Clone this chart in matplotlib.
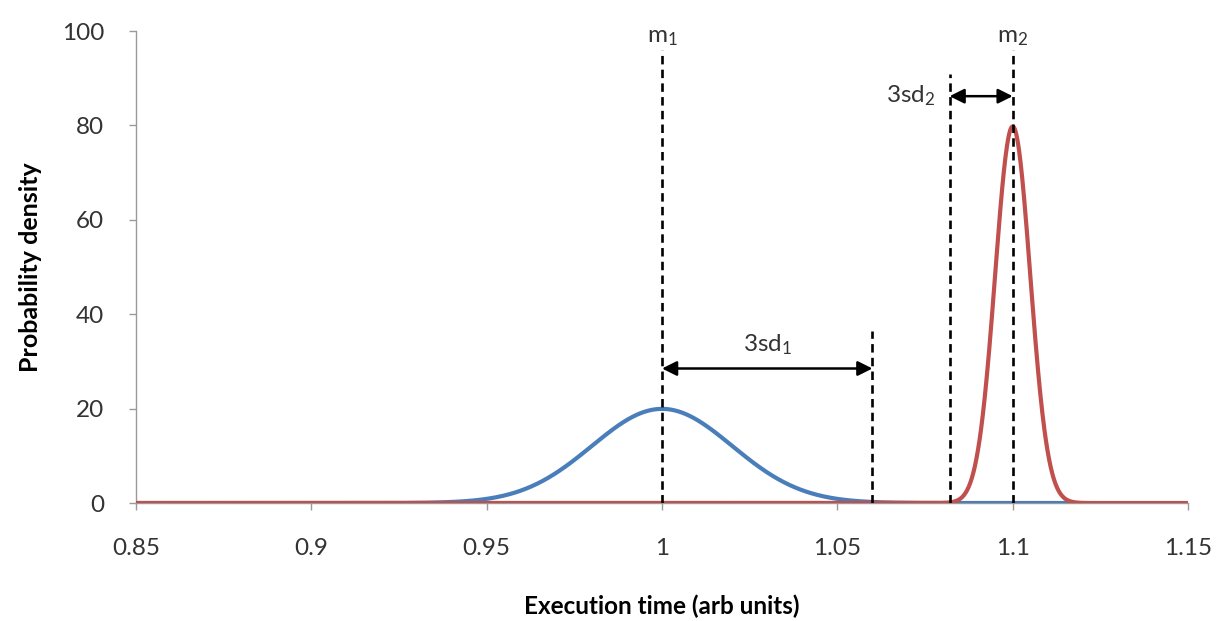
import numpy as np
import matplotlib
matplotlib.use("Agg")
import matplotlib.pyplot as plt

plt.rcParams['font.family'] = ['Lato', 'DejaVu Sans']
plt.rcParams['mathtext.fontset'] = 'custom'
plt.rcParams['mathtext.rm'] = 'Lato'

# Data
means = [1.0, 1.1]
sds = [0.02, 0.005]
series_colors = ['#4a7ebb', '#c0504d']
blue_range = [0.85, 1.117]
red_range = [0.85, 1.15]
x_ticks = [0.85, 0.9, 0.95, 1.0, 1.05, 1.1, 1.15]
x_tick_labels = ['0.85', '0.9', '0.95', '1', '1.05', '1.1', '1.15']
y_ticks = [0, 20, 40, 60, 80, 100]

# marker lines: x, top value
m1_line = (1.0, 96)
m2_line = (1.1, 96)
sd1_line = (1.06, 36.5)
sd2_line = (1.082, 91)
sd1_arrow_y = 28.5
sd2_arrow_y = 86.2


def pdf(x, m, s):
    return np.exp(-0.5 * ((x - m) / s) ** 2) / (s * np.sqrt(2 * np.pi))


fig = plt.figure(figsize=(12.21, 6.21), dpi=100)
ax = fig.add_axes([0.1114, 0.190, 0.8616, 0.760])

ranges = [blue_range, red_range]
for m, s, c, r in zip(means, sds, series_colors, ranges):
    x = np.linspace(r[0], r[1], 2000)
    ax.plot(x, pdf(x, m, s), color=c, lw=3.0, solid_capstyle='butt', zorder=3)

dash = dict(color='black', lw=1.9, linestyle=(0, (3.2, 2.0)), zorder=4)
for xv, top in [m1_line, m2_line, sd1_line, sd2_line]:
    ax.plot([xv, xv], [0, top], **dash)

arrow = dict(arrowstyle='<|-|>', color='black', lw=1.8,
             mutation_scale=22, shrinkA=0, shrinkB=0)
ax.annotate('', xy=(sd1_line[0], sd1_arrow_y), xytext=(m1_line[0], sd1_arrow_y),
            arrowprops=arrow, zorder=5)
ax.annotate('', xy=(m2_line[0], sd2_arrow_y), xytext=(sd2_line[0], sd2_arrow_y),
            arrowprops=arrow, zorder=5)

tfont = dict(fontsize=17.5, color='#333333')
ax.text(m1_line[0], 96.5, r'$\mathregular{m_1}$', ha='center', va='bottom', **tfont)
ax.text(m2_line[0], 96.5, r'$\mathregular{m_2}$', ha='center', va='bottom', **tfont)
ax.text((m1_line[0] + sd1_line[0]) / 2, 31.0, r'$\mathregular{3sd_1}$',
        ha='center', va='bottom', **tfont)
ax.text(sd2_line[0] - 0.004, sd2_arrow_y, r'$\mathregular{3sd_2}$',
        ha='right', va='center', **tfont)

ax.set_xlim(0.85, 1.15)
ax.set_ylim(0, 100)
ax.set_xticks(x_ticks)
ax.set_xticklabels(x_tick_labels)
ax.set_yticks(y_ticks)

for side in ['top', 'right']:
    ax.spines[side].set_visible(False)
for side in ['left', 'bottom']:
    ax.spines[side].set_color('#9a9a9a')
    ax.spines[side].set_linewidth(1.0)
ax.tick_params(axis='both', colors='#9a9a9a', labelcolor='#333333',
               labelsize=17.5, length=5, width=1, direction='out')
ax.tick_params(axis='x', pad=20)
ax.tick_params(axis='y', pad=18)

ax.set_xlabel('Execution time (arb units)', fontsize=17.5, fontweight='bold',
              labelpad=26, color='black')
ax.set_ylabel('Probability density', fontsize=18, fontweight='bold',
              labelpad=14, color='black')

fig.savefig('out.png', dpi=100)
